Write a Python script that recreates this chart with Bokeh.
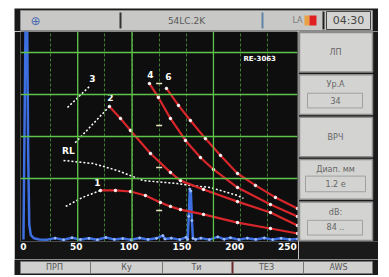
import numpy as np
from bokeh.plotting import figure
from bokeh.layouts import column, row
from bokeh.models import Range1d, FixedTicker, Span, Spacer
from bokeh.core.properties import value
from bokeh.embed import file_html
from bokeh.resources import INLINE

# ---------------- data (depth in mm, amplitude in % of screen height) ----------------
x_ticks = [0, 50, 100, 150, 200, 250]

curve1_x = [72.9, 87.1, 101.3, 115.5, 129.7, 139.2, 148.7, 170.5, 202.7, 233.9, 259.5]
curve1_y = [24.3, 24.3, 23.8, 21.9, 18.6, 16.7, 15.2, 12.9, 9.0, 6.2, 3.8]

curve2_x = [81.4, 91.9, 101.3, 120.3, 139.2, 148.7, 170.5, 202.7, 233.9, 259.5]
curve2_y = [64.3, 58.6, 52.9, 41.9, 32.9, 29.0, 24.8, 19.0, 13.8, 7.6]

curve4_x = [119.3, 127.8, 139.2, 153.4, 167.6, 179.9, 202.7, 233.9, 259.5]
curve4_y = [75.2, 68.6, 58.6, 48.1, 40.0, 34.3, 25.7, 17.6, 11.9]

curve6_x = [135.4, 146.8, 158.1, 172.3, 186.6, 202.7, 219.7, 238.6, 259.5]
curve6_y = [72.9, 64.8, 57.6, 49.0, 41.0, 32.4, 26.7, 21.0, 15.7]

rl_x = [37.9, 66.3, 89.0, 113.6, 145.8, 158.1, 177.1, 202.7, 208.3]
rl_y = [38.6, 37.1, 33.8, 29.0, 27.6, 26.7, 25.7, 21.9, 20.5]

lead1_x = [40.0, 56.0, 72.9]
lead1_y = [16.7, 21.0, 24.3]
lead2_x = [49.0, 81.4]
lead2_y = [47.0, 64.3]
lead3_x = [41.7, 63.4]
lead3_y = [63.8, 74.3]

label_text = ["3", "2", "RL", "1", "4", "6"]
label_x = [65.3, 82.4, 42.6, 70.1, 120.3, 137.3]
label_y = [77.6, 68.6, 43.3, 28.1, 79.5, 78.6]

gate_x = [128.5, 128.5, 128.5, 128.5]
gate_y = [75.2, 55.2, 35.2, 14.8]

ascan_x = [0, 2, 3.5, 4.5, 5.5, 7, 10, 15, 22, 30, 38, 46, 54, 62, 70, 78, 86, 94, 102,
           110, 118, 126, 132, 134, 140, 148, 154, 155.5, 156.5, 157.5, 158.5, 159.5,
           160.5, 163, 168, 176, 184, 190, 196, 204, 212, 220, 228, 236, 244, 252, 259.5]
ascan_y = [1, 105, 105, 40, 8, 3, 1.5, 1, 0.8, 1.6, 0.8, 1.8, 0.9, 1.5, 0.8, 1.9, 1.0, 1.4, 0.8,
           1.7, 1.0, 1.5, 2.8, 1.2, 1.6, 0.9, 2.0, 1.0, 12, 25, 24, 10,
           1.5, 1.0, 1.6, 0.9, 2.2, 1.1, 1.8, 0.9, 1.6, 1.0, 1.7, 0.9, 1.5, 1.0, 1.2]

FONT = value("DejaVu Sans")
DARK = "#1a1a1a"

# ---------------- chrome helper ----------------
def chrome(w, h, x0, x1, y0, y1):
    f = figure(width=w, height=h, x_range=Range1d(x0, x1), y_range=Range1d(y1, y0),
               x_axis_type=None, y_axis_type=None, toolbar_location=None,
               output_backend="svg", min_border=0, outline_line_color=None,
               background_fill_color=DARK, border_fill_color=DARK)
    f.grid.visible = False
    return f

# ---------------- status bar ----------------
top = chrome(364, 23, 14, 378, 8, 31)
top.quad(left=[20], right=[372], top=[10], bottom=[30], fill_color="#c8c8c6", line_color="#8a8a8a")
top.segment(x0=[120, 262, 323], y0=[12, 12, 11], x1=[120, 262, 323], y1=[28, 28, 29],
            line_color=["#333333", "#5f86a8", "#222222"], line_width=2)
top.text(x=[35], y=[20], text=["⊕"], text_color="#4a6ab0", text_font=FONT,
         text_font_size="12px", text_align="center", text_baseline="middle")
top.text(x=[186], y=[20], text=["54LC.2K"], text_color="#5a5a5a", text_font=FONT,
         text_font_size="9px", text_align="center", text_baseline="middle")
top.text(x=[297], y=[20], text=["LA"], text_color="#7a7a7a", text_font=FONT,
         text_font_size="8px", text_align="center", text_baseline="middle")
top.quad(left=[304, 309], right=[309, 316], top=[15, 15], bottom=[25, 25],
         fill_color=["#e8a040", "#e02020"], line_color=None)
top.quad(left=[326], right=[370], top=[11], bottom=[29], fill_color="#d4d4d2", line_color="#444444")
top.text(x=[348], y=[20], text=["04:30"], text_color="#444444", text_font=FONT,
         text_font_size="11px", text_align="center", text_baseline="middle")

# ---------------- main A-scan ----------------
p = figure(width=284, height=228, x_range=Range1d(-2.8, 259.5), y_range=Range1d(0, 100),
           y_axis_type=None, toolbar_location=None, output_backend="svg",
           min_border_left=6, min_border_right=1, min_border_top=0, min_border_bottom=18,
           background_fill_color="#0e0e0e", border_fill_color="#141414",
           outline_line_color=None)
p.xaxis.ticker = FixedTicker(ticks=x_ticks)
p.xaxis.axis_line_color = None
p.xaxis.major_tick_line_color = None
p.xaxis.minor_tick_line_color = None
p.xaxis.major_tick_out = 0
p.xaxis.major_tick_in = 0
p.xaxis.major_label_text_color = "white"
p.xaxis.major_label_text_font = "DejaVu Sans"
p.xaxis.major_label_text_font_size = "9px"
p.xaxis.major_label_text_font_style = "bold"
p.xaxis.major_label_standoff = 1

grid_x = list(np.arange(1, 10) * 25.7)
p.xgrid.ticker = FixedTicker(ticks=grid_x)
p.xgrid.grid_line_color = "#4f9a3e"
p.xgrid.grid_line_dash = "3 2"
p.xgrid.grid_line_alpha = 0.8
p.ygrid.ticker = FixedTicker(ticks=[10, 20, 40, 60, 80])
p.ygrid.grid_line_color = "#7aa83e"
p.ygrid.grid_line_dash = "4 3"
p.ygrid.grid_line_alpha = 0.8
for loc in [90, 70, 50, 30]:
    p.add_layout(Span(location=loc, dimension="width", line_color="#5fc44a", line_width=1.3))
for loc in [grid_x[1], grid_x[3], grid_x[6]]:
    p.add_layout(Span(location=loc, dimension="height", line_color="#5fc44a", line_width=1.3))

# A-scan trace
p.line(ascan_x, ascan_y, line_color="#3d6fe0", line_width=2.5)
p.scatter(ascan_x[9:], ascan_y[9:], size=2, color="#9fbfff")

# white dotted reference / leader lines
for xs, ys in [(rl_x, rl_y), (lead1_x, lead1_y), (lead2_x, lead2_y), (lead3_x, lead3_y)]:
    p.line(xs, ys, line_color="white", line_width=1.5, line_dash="2 2")

# red curves with white nodes
for xs, ys in [(curve1_x, curve1_y), (curve2_x, curve2_y), (curve4_x, curve4_y), (curve6_x, curve6_y)]:
    p.line(xs, ys, line_color="#d8262a", line_width=2.2)
    p.scatter(xs, ys, size=2.5, color="white")

p.scatter(gate_x, gate_y, marker="dash", size=6, line_color="#e8e8c0", line_width=1.5)

p.text(label_x, label_y, text=label_text, text_color="white", text_font=FONT,
       text_font_size="9px", text_font_style="bold", text_align="center", text_baseline="middle")
p.text([208.3], [87.1], text=["RE-3063"], text_color="white", text_font=FONT,
       text_font_size="7px", text_font_style="bold", text_align="left", text_baseline="middle")

# ---------------- right soft-key panel ----------------
panel = chrome(80, 228, 298, 378, 31, 259)
b_top = [32, 78, 124, 170, 216]
b_bot = [75, 121, 167, 213, 258]
panel.quad(left=[299] * 5, right=[372] * 5, top=b_top, bottom=b_bot,
           fill_color="#d3d3d1", line_color="#8c8c8c", line_width=1.5)
panel.quad(left=[307, 305, 307], right=[362, 365, 362], top=[98, 188, 236], bottom=[114, 205, 252],
           fill_color=None, line_color="#a0a0a0")
panel.text(x=[335, 335, 335, 335, 335, 335, 335, 335],
           y=[54, 89, 106, 146, 181, 197, 228, 244],
           text=["ЛП", "Ур.А", "34", "ВРЧ", "Диап. мм", "1.2 e", "dB:", "84 .."],
           text_color="#666666", text_font=FONT, text_font_size="8px",
           text_align="center", text_baseline="middle")

# ---------------- bottom tab bar ----------------
bottom = chrome(364, 16, 14, 378, 259, 275)
bottom.quad(left=[20, 90, 162, 232, 303], right=[90, 162, 232, 303, 372],
            top=[261] * 5, bottom=[273] * 5, fill_color="#d0d0ce", line_color="#777777")
bottom.segment(x0=[232], y0=[261], x1=[232], y1=[273], line_color="#6a2a2a", line_width=2)
bottom.text(x=[54, 126, 196, 266, 338], y=[267] * 5,
            text=["ПРП", "Ку", "Ти", "ТЕЗ", "AWS"], text_color="#555555", text_font=FONT,
            text_font_size="8px", text_align="center", text_baseline="middle")

device = column(top, row(p, panel), bottom)
root = column(Spacer(width=378, height=8), row(Spacer(width=14, height=267), device))
open("out.html", "w").write(file_html(root, INLINE))
